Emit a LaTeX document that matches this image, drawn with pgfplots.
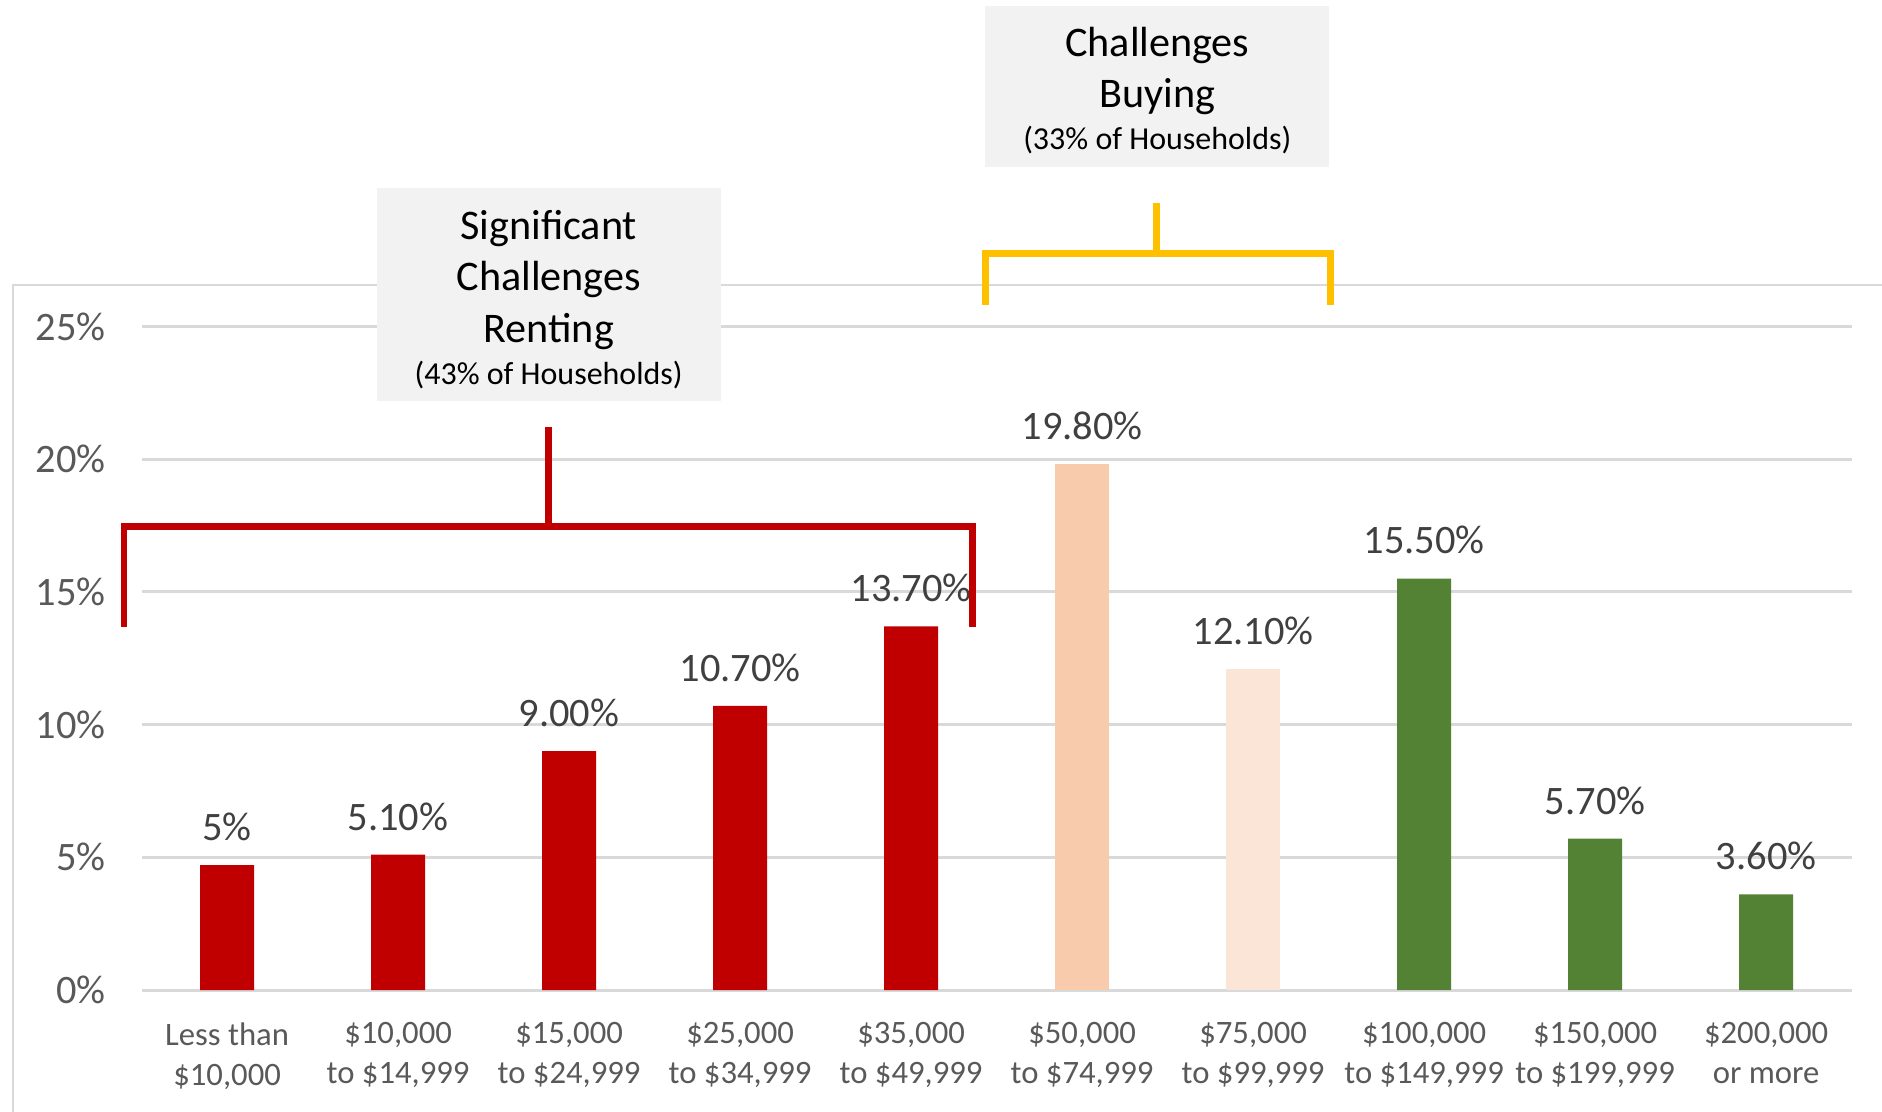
\documentclass[border=0pt]{standalone}
\usepackage{fontspec}
\setmainfont{Carlito}
\usepackage{pgfplots}
\pgfplotsset{compat=1.18}
\definecolor{barred}{HTML}{C00000}
\definecolor{bargreen}{HTML}{548235}
\definecolor{peach}{HTML}{F8CBAD}
\definecolor{lightpeach}{HTML}{FBE5D6}
\definecolor{gold}{HTML}{FFC000}
\definecolor{gridgray}{HTML}{D9D9D9}
\definecolor{boxgray}{HTML}{F2F2F2}
\definecolor{tickgray}{HTML}{595959}
\definecolor{labelgray}{HTML}{404040}

\begin{document}
\begin{tikzpicture}
\path[use as bounding box] (0,0) rectangle (18.82cm,-11.12cm);
% outer chart frame
\draw[gridgray, line width=0.85pt] (0.13cm,-11.12cm) -- (0.13cm,-2.85cm) -- (18.82cm,-2.85cm);

\begin{axis}[
  at={(1.416cm,-9.90cm)}, anchor=south west,
  scale only axis,
  width=17.10cm, height=6.636cm,
  xmin=-0.5, xmax=9.5,
  ymin=0, ymax=25,
  clip=false,
  axis line style={draw=none},
  major tick length=0pt,
  tick style={draw=none},
  ymajorgrids,
  grid style={draw=gridgray, line width=0.85pt},
  ytick={0,5,10,15,20,25},
  yticklabels={0\%,5\%,10\%,15\%,20\%,25\%},
  yticklabel style={font=\fontsize{11.5}{13.7}\selectfont, text=tickgray, anchor=east, inner sep=0pt, xshift=-10.1pt},
  xtick={0,...,9},
  xticklabels={{Less than\\\$10,000},{\$10,000\\to \$14,999},{\$15,000\\to \$24,999},{\$25,000\\to \$34,999},{\$35,000\\to \$49,999},{\$50,000\\to \$74,999},{\$75,000\\to \$99,999},{\$100,000\\to \$149,999},{\$150,000\\to \$199,999},{\$200,000\\or more}},
  xticklabel style={font=\fontsize{9.3}{11.4}\selectfont, text=tickgray, align=center, anchor=north, inner sep=0pt, yshift=-9pt},
  every node near coord/.append style={font=\fontsize{11.5}{13.7}\selectfont, text=labelgray, inner sep=0pt, anchor=south, yshift=6.7pt},
]
\addplot[ybar, bar shift=0pt, bar width=15.4pt, fill=barred, draw=none,
  nodes near coords, point meta=explicit symbolic]
  coordinates {(0,4.7) [5\%] (1,5.1) [5.10\%] (2,9.0) [9.00\%] (3,10.7) [10.70\%] (4,13.7) [13.70\%]};
\addplot[ybar, bar shift=0pt, bar width=15.4pt, fill=peach, draw=none,
  nodes near coords, point meta=explicit symbolic]
  coordinates {(5,19.8) [19.80\%]};
\addplot[ybar, bar shift=0pt, bar width=15.4pt, fill=lightpeach, draw=none,
  nodes near coords, point meta=explicit symbolic]
  coordinates {(6,12.1) [12.10\%]};
\addplot[ybar, bar shift=0pt, bar width=15.4pt, fill=bargreen, draw=none,
  nodes near coords, point meta=explicit symbolic]
  coordinates {(7,15.5) [15.50\%] (8,5.7) [5.70\%] (9,3.6) [3.60\%]};
\end{axis}

% annotations, in pixel units of the reference
\begin{scope}[x=0.01cm, y=-0.01cm]
\draw[barred, line width=1.9pt, line join=miter] (124,627) -- (124,527) -- (973,527) -- (973,627);
\draw[barred, line width=1.9pt] (549,527) -- (549,427);
\draw[gold, line width=2pt, line join=miter] (986,305) -- (986,254) -- (1331,254) -- (1331,305);
\draw[gold, line width=2pt] (1157,254) -- (1157,203);

\fill[boxgray] (377,188) rectangle (721,401);
\fill[boxgray] (986,6) rectangle (1330,167);

\node[anchor=base, inner sep=0pt, font=\fontsize{12}{15}\selectfont] at (549,240) {Significant};
\node[anchor=base, inner sep=0pt, font=\fontsize{12}{15}\selectfont] at (549,291) {Challenges};
\node[anchor=base, inner sep=0pt, font=\fontsize{12}{15}\selectfont] at (549,343) {Renting};
\node[anchor=base, inner sep=0pt, font=\fontsize{9.1}{11}\selectfont] at (549,385) {(43\% of Households)};

\node[anchor=base, inner sep=0pt, font=\fontsize{12}{15}\selectfont] at (1158,57) {Challenges};
\node[anchor=base, inner sep=0pt, font=\fontsize{12}{15}\selectfont] at (1158,108) {Buying};
\node[anchor=base, inner sep=0pt, font=\fontsize{9.1}{11}\selectfont] at (1158,150) {(33\% of Households)};
\end{scope}
\end{tikzpicture}
\end{document}
